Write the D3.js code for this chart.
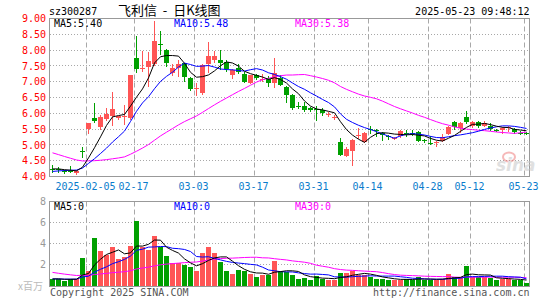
<!DOCTYPE html>
<html>
<head>
<meta charset="utf-8">
<script src="https://cdn.jsdelivr.net/npm/d3@7"></script>
<style>
body { margin: 0; background: #fff; }
text { font-family: "DejaVu Sans Mono", monospace; font-size: 10px; }
</style>
</head>
<body>
<div id="chart"></div>
<script>
// trading days shown (2025-01-20 .. 2025-05-23)
const dates = [
  '2025-01-20','2025-01-21','2025-01-22','2025-01-23','2025-01-24','2025-01-27',
  '2025-02-05','2025-02-06','2025-02-07','2025-02-10','2025-02-11','2025-02-12','2025-02-13','2025-02-14',
  '2025-02-17','2025-02-18','2025-02-19','2025-02-20','2025-02-21','2025-02-24','2025-02-25','2025-02-26',
  '2025-02-27','2025-02-28',
  '2025-03-03','2025-03-04','2025-03-05','2025-03-06','2025-03-07','2025-03-10','2025-03-11','2025-03-12',
  '2025-03-13','2025-03-14','2025-03-17','2025-03-18','2025-03-19','2025-03-20','2025-03-21','2025-03-24',
  '2025-03-25','2025-03-26','2025-03-27','2025-03-28','2025-03-31',
  '2025-04-01','2025-04-02','2025-04-03','2025-04-07','2025-04-08','2025-04-09','2025-04-10','2025-04-11',
  '2025-04-14','2025-04-15','2025-04-16','2025-04-17','2025-04-18','2025-04-21','2025-04-22','2025-04-23',
  '2025-04-24','2025-04-25','2025-04-28','2025-04-29','2025-04-30',
  '2025-05-06','2025-05-07','2025-05-08','2025-05-09','2025-05-12','2025-05-13','2025-05-14','2025-05-15',
  '2025-05-16','2025-05-19','2025-05-20','2025-05-21','2025-05-22','2025-05-23'
];

const opens = [
  4.24,4.24,4.18,4.18,4.12,4.80,5.50,5.85,5.57,5.82,5.92,5.85,5.88,5.86,7.76,7.40,7.45,7.55,8.20,8.00,
  7.28,7.44,7.58,7.12,6.78,6.63,7.55,7.68,7.68,7.62,7.20,7.42,7.24,6.96,7.20,7.08,7.07,6.95,7.13,6.84,
  6.58,6.24,6.23,6.16,6.14,6.10,5.95,5.86,5.10,4.66,4.81,5.30,5.10,5.50,5.46,5.39,5.27,5.21,5.29,5.39,
  5.39,5.40,5.14,5.06,5.06,5.13,5.33,5.71,5.52,5.87,5.60,5.74,5.61,5.61,5.48,5.47,5.54,5.51,5.39,5.37
];
const highs = [
  4.37,4.30,4.22,4.33,4.19,4.92,5.70,6.33,5.95,6.17,6.67,5.92,6.25,7.21,8.46,7.98,7.93,8.92,8.60,8.02,
  7.56,7.68,7.60,7.16,6.95,7.55,8.26,7.97,8.00,7.68,7.40,7.55,7.30,7.22,7.25,7.23,7.19,7.76,7.20,6.86,
  6.60,6.36,6.36,6.21,6.22,6.16,6.03,5.95,5.21,4.94,5.18,5.52,5.42,5.60,5.51,5.42,5.31,5.26,5.47,5.47,
  5.46,5.45,5.20,5.27,5.13,5.36,5.60,5.75,5.73,6.08,5.76,5.77,5.75,5.68,5.51,5.58,5.60,5.55,5.45,5.42
];
const lows = [
  4.12,4.10,4.08,4.10,4.05,4.58,5.36,5.68,5.47,5.76,5.60,5.80,5.62,5.80,7.26,7.30,6.83,7.50,7.85,7.48,
  7.18,7.14,7.00,6.71,6.56,6.58,7.27,7.60,7.38,7.30,7.09,7.25,6.95,6.93,7.06,7.00,6.84,6.81,6.85,6.32,
  6.10,6.13,6.05,6.03,5.76,5.93,5.88,5.80,4.65,4.62,4.33,5.20,5.06,5.36,5.26,5.13,5.17,5.17,5.21,5.26,
  5.28,5.10,5.07,5.00,4.94,5.10,5.31,5.48,5.38,5.65,5.55,5.55,5.56,5.45,5.40,5.33,5.41,5.36,5.31,5.31
];
const closes = [
  4.20,4.22,4.14,4.16,4.17,4.78,5.69,5.75,5.88,5.98,6.13,5.90,5.93,7.20,7.39,7.44,7.64,8.30,8.18,7.58,
  7.44,7.55,7.16,6.76,6.80,7.53,7.82,7.80,7.58,7.40,7.36,7.32,6.99,7.20,7.13,7.10,6.95,7.26,6.90,6.58,
  6.16,6.20,6.11,6.09,6.12,6.02,5.97,5.88,4.68,4.87,5.15,5.32,5.38,5.48,5.44,5.31,5.25,5.23,5.43,5.37,
  5.37,5.13,5.12,5.04,5.08,5.24,5.57,5.57,5.68,5.71,5.72,5.60,5.69,5.49,5.46,5.54,5.56,5.41,5.38,5.35
];
// volume, millions of shares
const volumes = [
  0.65,0.65,0.46,0.59,0.65,2.62,1.41,4.52,3.32,2.90,3.67,2.52,2.68,3.76,6.17,3.63,3.38,4.71,3.70,2.81,
  2.11,2.11,1.95,1.79,1.41,3.13,3.67,3.13,2.27,1.41,1.10,1.51,1.41,1.10,0.84,1.03,0.97,2.37,1.41,1.25,
  1.00,0.65,0.75,0.56,0.90,0.65,0.56,0.56,1.19,1.19,1.38,1.00,1.00,0.84,0.62,0.62,0.56,0.56,0.56,0.62,
  0.56,0.78,0.56,0.56,0.52,0.62,1.10,0.84,0.78,1.86,0.84,0.78,0.78,0.71,0.56,0.62,0.62,0.56,0.56,0.21
];
// estimated closes / volumes of the 29 sessions before the window, only used for the moving averages
const prevCloses = [
  5.95,5.90,5.85,5.80,5.70,5.65,5.55,5.45,5.40,5.35,5.10,4.90,4.70,4.55,4.40,4.30,4.20,4.10,4.05,4.00,
  4.05,4.02,4.08,4.10,4.15,4.22,4.26,4.24,4.28
];
const prevVolumes = [
  3.2,2.9,2.6,2.5,2.2,1.9,1.7,1.6,1.5,1.4,1.3,1.2,1.1,1.0,1.0,0.9,0.9,0.8,0.8,0.7,
  0.7,0.65,0.6,0.65,0.6,0.6,0.65,0.6,0.6
];

const priceTicks = [4, 4.5, 5, 5.5, 6, 6.5, 7, 7.5, 8, 8.5, 9];
const volTicks = [2, 4, 6, 8];
const tickDates = ['2025-02-05','2025-02-17','2025-03-03','2025-03-17','2025-03-31','2025-04-14','2025-04-28','2025-05-12','2025-05-23'];
const tickLabels = ['2025-02-05','02-17','03-03','03-17','03-31','04-14','04-28','05-12','05-23'];

const width = 545;
const height = 300;
const red = '#ff5555';
const green = '#00a000';
const gridColor = '#a8a8a8';

function movingAvg(prev, vals, n) {
  const all = prev.concat(vals);
  return vals.map((v, i) => {
    const end = prev.length + i + 1;
    return d3.mean(all.slice(end - n, end));
  });
}

const svg = d3.select('#chart').append('svg')
  .attr('width', width)
  .attr('height', height);

const x = d3.scaleBand().domain(dates).range([50, 530]);
const y = d3.scaleLinear().domain([4, 9]).range([176.5, 18.5]);
const yv = d3.scaleLinear().domain([0, 8]).range([285.5, 201.5]);
const cx = d => x(d) + 2.5;
const row = v => Math.round(v - 0.5) + 0.5;

// ---- header
svg.append('text').attr('x', 49).attr('y', 15).text('sz300287');
svg.append('text').attr('x', 118).attr('y', 15)
  .style('font-family', '"Noto Sans CJK SC", sans-serif').style('font-size', '13px')
  .style('white-space', 'pre')
  .text('飞利信  -  日K线图');
svg.append('text').attr('x', 529.5).attr('y', 15).attr('text-anchor', 'end').text('2025-05-23 09:48:12');

// ---- grids
function grid(top, bottom, scale, ticks) {
  const g = svg.append('g');
  g.selectAll('line.h').data(ticks).join('line')
    .attr('x1', 50).attr('x2', 529)
    .attr('y1', d => row(scale(d))).attr('y2', d => row(scale(d)))
    .attr('stroke', gridColor).attr('stroke-dasharray', '1,2');
  g.selectAll('line.v').data(tickDates).join('line')
    .attr('x1', d => x(d) + 0.5).attr('x2', d => x(d) + 0.5)
    .attr('y1', top).attr('y2', bottom)
    .attr('stroke', gridColor).attr('stroke-dasharray', '5,3');
  svg.append('rect')
    .attr('x', 49.5).attr('y', top).attr('width', 480).attr('height', bottom - top)
    .attr('fill', 'none').attr('stroke', '#999');
}
grid(18.5, 176.5, y, priceTicks.filter(t => t > 4 && t < 9));
grid(201.5, 286.5, yv, volTicks.filter(t => t < 8));

// watermark
const wm = svg.append('g').attr('opacity', 0.55);
wm.append('ellipse').attr('cx', 509).attr('cy', 157).attr('rx', 6).attr('ry', 4.5)
  .attr('fill', 'none').attr('stroke', '#f08080').attr('stroke-width', 2);
wm.append('text').attr('x', 496).attr('y', 171)
  .style('font-family', '"DejaVu Sans", sans-serif').style('font-size', '17px')
  .style('font-style', 'italic').style('font-weight', 'bold')
  .attr('fill', '#c8c8c8').text('sina');

// ---- candles
const up = i => closes[i] >= opens[i];
const candles = svg.append('g');
candles.selectAll('line').data(dates).join('line')
  .attr('x1', cx).attr('x2', cx)
  .attr('y1', (d, i) => y(highs[i])).attr('y2', (d, i) => y(lows[i]))
  .attr('stroke', (d, i) => up(i) ? red : green)
  .attr('shape-rendering', 'crispEdges');
candles.selectAll('rect').data(dates).join('rect')
  .attr('x', d => x(d))
  .attr('y', (d, i) => y(Math.max(opens[i], closes[i])))
  .attr('width', 5)
  .attr('height', (d, i) => Math.max(1, Math.abs(y(opens[i]) - y(closes[i]))))
  .attr('fill', (d, i) => up(i) ? red : green)
  .attr('shape-rendering', 'crispEdges');

// ---- price moving averages
const maColors = { 5: '#000', 10: '#0000ff', 30: '#ff00ff' };
[30, 10, 5].forEach(n => {
  const ma = movingAvg(prevCloses, closes, n);
  svg.append('path')
    .attr('d', d3.line().x((v, i) => cx(dates[i])).y(v => y(v))(ma))
    .attr('fill', 'none').attr('stroke', maColors[n]).attr('stroke-width', 1);
});

// ---- volume bars
svg.append('g').selectAll('rect').data(dates).join('rect')
  .attr('x', d => x(d))
  .attr('y', (d, i) => yv(volumes[i]))
  .attr('width', 5)
  .attr('height', (d, i) => 286 - yv(volumes[i]))
  .attr('fill', (d, i) => up(i) ? red : green)
  .attr('shape-rendering', 'crispEdges');

[30, 10, 5].forEach(n => {
  const ma = movingAvg(prevVolumes, volumes, n);
  svg.append('path')
    .attr('d', d3.line().x((v, i) => cx(dates[i])).y(v => yv(v))(ma))
    .attr('fill', 'none').attr('stroke', maColors[n]).attr('stroke-width', 1);
});

// ---- axes
function styleAxis(g, color) {
  g.select('.domain').remove();
  g.attr('font-family', null).attr('font-size', null);
  g.selectAll('text').attr('fill', color);
}
svg.append('g').attr('transform', 'translate(50,0)')
  .call(d3.axisLeft(y).tickValues(priceTicks).tickFormat(d3.format('.2f')).tickSize(0).tickPadding(4))
  .call(g => styleAxis(g, '#ff0000'));
svg.append('g').attr('transform', 'translate(50,0)')
  .call(d3.axisLeft(yv).tickValues(volTicks).tickFormat(d3.format('d')).tickSize(0).tickPadding(4))
  .call(g => styleAxis(g, '#999'));
svg.append('g').attr('transform', 'translate(-3.5,180)')
  .call(d3.axisBottom(x).tickValues(tickDates).tickFormat((d, i) => tickLabels[i]).tickSize(0).tickPadding(2.5))
  .call(g => styleAxis(g, '#0a7ccc'));

// ---- legends
function legend(yy, texts) {
  const xs = [54, 174, 295];
  const cols = ['#000', '#0000ff', '#ff00ff'];
  texts.forEach((t, i) => svg.append('text').attr('x', xs[i]).attr('y', yy).attr('fill', cols[i]).text(t));
}
legend(27, ['MA5:5.40', 'MA10:5.48', 'MA30:5.38']);
legend(209.5, ['MA5:0', 'MA10:0', 'MA30:0']);

svg.append('text').attr('x', 18).attr('y', 290).attr('fill', '#bbb')
  .style('font-family', '"Noto Sans CJK SC", sans-serif').text('x百万');

// ---- footer
svg.append('text').attr('x', 50).attr('y', 296).attr('fill', '#555').text('Copyright 2025 SINA.COM');
svg.append('text').attr('x', 529.5).attr('y', 296).attr('text-anchor', 'end').attr('fill', '#555').text('http://finance.sina.com.cn');
</script>
</body>
</html>
